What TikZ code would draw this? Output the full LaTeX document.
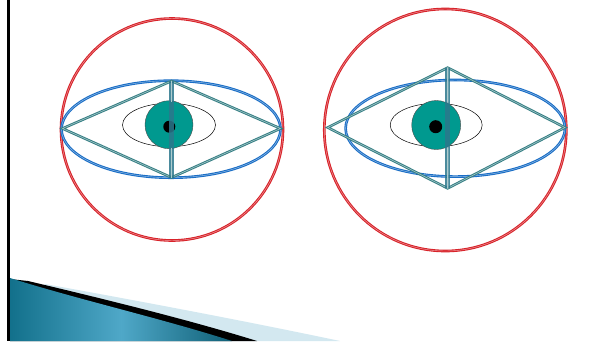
\documentclass[tikz,border=0pt]{standalone}
\usetikzlibrary{calc}
\definecolor{redc}{HTML}{D8232A}
\definecolor{bluec}{HTML}{1A6EC6}
\definecolor{tealline}{HTML}{357F84}
\definecolor{irisc}{HTML}{00998F}
\definecolor{vlinec}{HTML}{2C778C}
\definecolor{swteal}{HTML}{12708B}
\definecolor{swlight}{HTML}{4FA8C8}
\definecolor{swpale}{HTML}{D3E8F0}
\tikzset{
  redring/.style={draw=redc, line width=1.1pt, double=redc!45, double distance=0.45pt},
  blueell/.style={draw=bluec, line width=1.1pt, double=bluec!45, double distance=0.45pt},
  diamondline/.style={draw=tealline, line width=1.0pt, double=tealline!45, double distance=0.6pt, line join=miter},
  vbar/.style={draw=vlinec, line width=5pt, opacity=0.85},
  vstripe/.style={draw=tealline!40, line width=1.3pt},
  eyeoutline/.style={draw=black, line width=0.5pt},
  iris/.style={fill=irisc, draw=black!70, line width=0.4pt},
  pupil/.style={fill=black}
}
\begin{document}
\begin{tikzpicture}[x=1pt,y=-1pt]
\useasboundingbox (0,0) rectangle (594,341);
\fill[white] (0,0) rectangle (594,341);

% bottom swoosh
\fill[swpale] (45,284) .. controls (150,303) and (250,322) .. (340,341) -- (10,341) -- cycle;
\fill[black] (28,281) .. controls (100,298) and (190,320) .. (257,341) -- (10,341) -- (10,279) -- cycle;
\shade[left color=swteal, right color=swteal!85!black, middle color=swlight]
  (10,278) .. controls (80,300) and (160,318) .. (232,341) -- (10,341) -- cycle;

% left black bar
\draw[black, line width=2.7pt] (8.7,0) -- (8.7,341);

% ---------- left figure ----------
\draw[redring] (172,129.5) circle [radius=111];
\draw[blueell] (171,129.2) ellipse [x radius=109.5, y radius=48.5];
\coordinate (L-l) at (62.5,128.5);
\coordinate (L-r) at (280.5,128.5);
\coordinate (L-t) at (171.5,81);
\coordinate (L-b) at (171.5,177.5);
\draw[diamondline] (L-l) -- (L-t) -- (L-r) -- (L-b) -- cycle;
\draw[eyeoutline] (169,125) ellipse [x radius=46.5, y radius=21.7];
\draw[iris] (169,124.7) circle [radius=24];
\fill[pupil] (169.3,126.7) circle [radius=6];
\draw[vbar] (L-t) -- (L-b);
\draw[vstripe] (L-t) -- ($(L-t)!0.22!(L-b)$);
\draw[vstripe] ($(L-t)!0.69!(L-b)$) -- (L-b);

% ---------- right figure ----------
\draw[redring] (445.3,130) circle [radius=121];
\draw[blueell] (455.3,128.3) ellipse [x radius=109.7, y radius=48.3];
\coordinate (R-l) at (327.7,127.5);
\coordinate (R-r) at (565,127.5);
\coordinate (R-t) at (447.7,67.7);
\coordinate (R-b) at (447.7,188.3);
\draw[diamondline] (R-l) -- (R-t) -- (R-r) -- (R-b) -- cycle;
\draw[eyeoutline] (436.2,125) ellipse [x radius=46, y radius=21.7];
\draw[iris] (436.2,125) circle [radius=24.5];
\fill[pupil] (435.7,126.7) circle [radius=6.5];
\draw[vbar] (R-t) -- (R-b);
\draw[vstripe] (R-t) -- ($(R-t)!0.29!(R-b)$);
\draw[vstripe] ($(R-t)!0.66!(R-b)$) -- (R-b);
\end{tikzpicture}
\end{document}
